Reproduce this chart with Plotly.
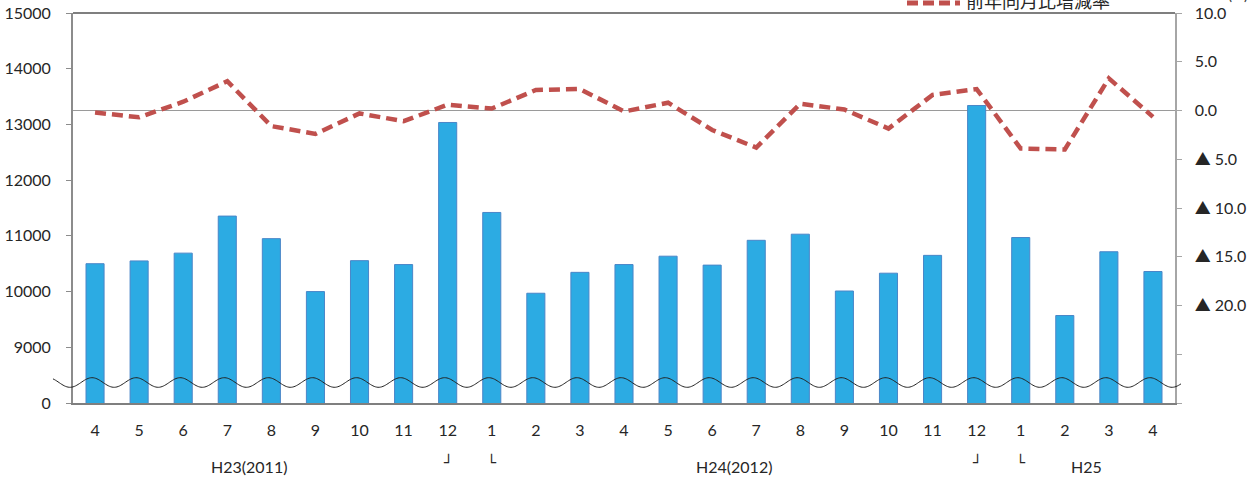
import numpy as np
import plotly.graph_objects as go

# ---- data ----
months = ["4", "5", "6", "7", "8", "9", "10", "11", "12", "1", "2", "3",
          "4", "5", "6", "7", "8", "9", "10", "11", "12", "1", "2", "3", "4"]
counts = [10500, 10550, 10690, 11355, 10950, 10000, 10555, 10485, 13035, 11420,
          9970, 10345, 10485, 10635, 10475, 10920, 11030, 10010, 10330, 10650,
          13340, 10970, 9570, 10715, 10360]
yoy = [-0.2, -0.7, 0.9, 3.0, -1.6, -2.4, -0.3, -1.1, 0.6, 0.2,
       2.1, 2.2, -0.1, 0.8, -2.0, -3.8, 0.7, 0.1, -1.85, 1.6,
       2.2, -3.9, -4.0, 3.3, -0.65]
line_name = "前年同月比増減率"
y1_ticks = [8000, 9000, 10000, 11000, 12000, 13000, 14000, 15000]
y1_text = ["0", "9000", "10000", "11000", "12000", "13000", "14000", "15000"]
y2_ticks = [-30, -25, -20, -15, -10, -5, 0, 5, 10]
y2_text = ["", "", "▲ 20.0", "▲ 15.0", "▲ 10.0", "▲ 5.0", "0.0", "5.0", "10.0"]
era_labels = [(3.5, "H23(2011)"), (14.5, "H24(2012)"), (22.5, "H25")]
bracket_marks = [(8, "┘"), (9, "└"), (20, "┘"), (21, "└")]

W, H = 1259, 478
ML, MR, MT, MB = 73, 84, 13, 75
PW, PH = W - ML - MR, H - MT - MB
FONT = "Lato, 'Noto Sans CJK JP', sans-serif"
xs = list(range(len(months)))

fig = go.Figure()
fig.add_trace(go.Bar(
    x=xs, y=counts, width=0.41, name="件数", showlegend=False,
    marker=dict(color="#2CABE3", line=dict(color="#4A86C8", width=1)),
))
fig.add_trace(go.Scatter(
    x=xs, y=yoy, yaxis="y2", mode="lines", name=line_name, showlegend=False,
    line=dict(color="#C0504D", width=4.5, dash="11px,6px"),
))

def px2paper_x(px):
    return (px - ML) / PW

def px2paper_y(py):
    return (H - MB - py) / PH

shapes = []
shapes.append(dict(type="line", xref="paper", yref="paper", x0=0, x1=1, y0=1, y1=1,
                   line=dict(color="#000000", width=1.2)))
n_cat = len(months)
step = PW / n_cat
xpx = np.linspace(53, 1181, 900)
phase = (xpx - (ML + step * 0.5 - 3)) / step * 2 * np.pi
ypx = 382.5 - 4.8 * np.cos(phase)
pts = [f"{px2paper_x(a):.5f},{px2paper_y(b):.5f}" for a, b in zip(xpx, ypx)]
shapes.append(dict(type="path", xref="paper", yref="paper", layer="above",
                   path="M" + " L".join(pts), line=dict(color="#222222", width=1)))
shapes.append(dict(type="line", xref="paper", yref="paper",
                   x0=px2paper_x(907), x1=px2paper_x(960),
                   y0=px2paper_y(3), y1=px2paper_y(3),
                   line=dict(color="#C0504D", width=5, dash="11px,5px")))

annotations = []
annotations.append(dict(xref="paper", yref="paper", x=px2paper_x(964), y=px2paper_y(1),
                        text=line_name, showarrow=False, xanchor="left", yanchor="middle",
                        font=dict(size=18, color="#262626", family=FONT)))
annotations.append(dict(xref="paper", yref="paper", x=px2paper_x(1226), y=px2paper_y(-6),
                        text="(%)", showarrow=False, xanchor="left", yanchor="middle",
                        font=dict(size=15, color="#404040", family=FONT)))
for xv, t in era_labels:
    annotations.append(dict(xref="x", yref="paper", x=xv, y=0, yshift=-63,
                            text=t, showarrow=False, yanchor="middle",
                            font=dict(size=16, color="#262626", family=FONT)))
for xv, t in bracket_marks:
    annotations.append(dict(xref="x", yref="paper", x=xv, y=0, yshift=-59,
                            text=t, showarrow=False, yanchor="middle",
                            font=dict(size=15, color="#262626", family="DejaVu Sans")))

fig.update_layout(
    width=W, height=H, autosize=False,
    margin=dict(l=ML, r=MR, t=MT, b=MB, pad=0, autoexpand=False),
    paper_bgcolor="white", plot_bgcolor="white",
    font=dict(family=FONT, size=16, color="#262626"),
    bargap=0,
    xaxis=dict(range=[-0.5, n_cat - 0.5], tickmode="array", tickvals=xs, ticktext=months,
               showgrid=False, zeroline=False, showline=True, linecolor="#7F7F7F",
               linewidth=1.5, ticks="", ticklabelstandoff=12, fixedrange=True,
               automargin=False),
    yaxis=dict(range=[8000, 15000], tickmode="array", tickvals=y1_ticks, ticktext=y1_text,
               showgrid=False, zeroline=False, showline=True, linecolor="#8C8C8C",
               linewidth=2, ticks="outside", ticklen=5, tickcolor="#8C8C8C",
               ticklabelstandoff=12, automargin=False),
    yaxis2=dict(range=[-30, 10], overlaying="y", side="right", tickmode="array",
                tickvals=y2_ticks, ticktext=y2_text, showgrid=False,
                zeroline=True, zerolinecolor="#9A9A9A", zerolinewidth=1.2,
                showline=True, linecolor="#A6A6A6", linewidth=1.5,
                ticks="outside", ticklen=5, tickcolor="#A6A6A6",
                ticklabelstandoff=10, automargin=False),
    shapes=shapes, annotations=annotations,
)

fig.write_html("out.html", config={"displayModeBar": False, "staticPlot": True},
               post_script="document.body.style.margin='0';document.body.style.overflow='hidden';")
